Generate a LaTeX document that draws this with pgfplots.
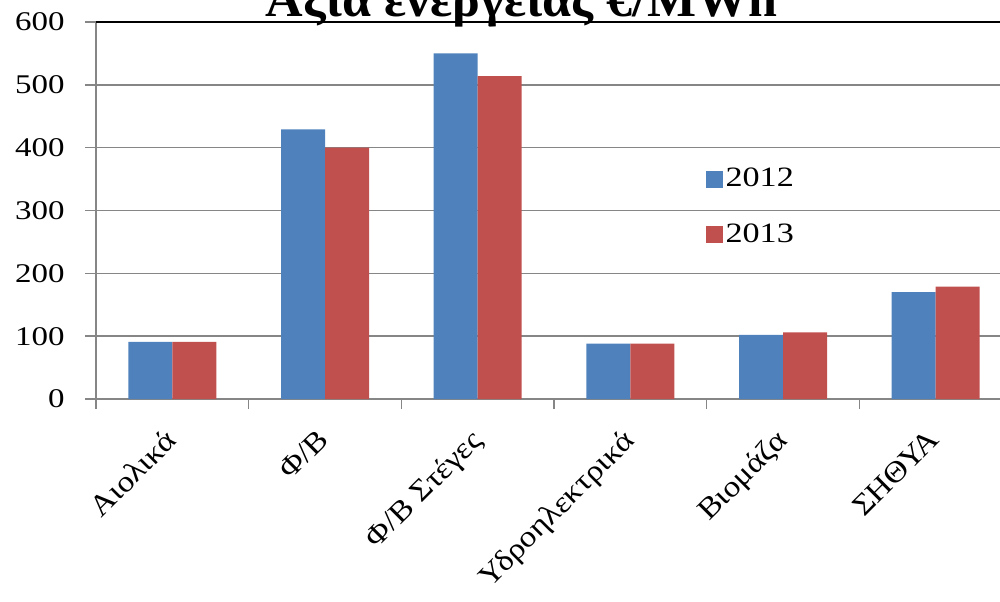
\documentclass[border=0pt]{standalone}
\usepackage{fontspec}
\setmainfont[FakeStretch=1.22]{Liberation Serif}
\newfontfamily\labelfont[FakeStretch=1.12]{Liberation Serif}
\newfontfamily\titlefont[FakeStretch=1.04]{Liberation Serif}
\usepackage{pgfplots}
\pgfplotsset{compat=1.18}
\definecolor{sblue}{HTML}{4F81BD}
\definecolor{sred}{HTML}{C0504D}
\definecolor{gridc}{HTML}{868686}
\begin{document}
\begin{tikzpicture}[x=1pt,y=1pt]
\useasboundingbox (0,0) rectangle (500,300.5);
\begin{axis}[
  at={(48pt,101pt)}, anchor=south west,
  scale only axis, width=458pt, height=188.5pt,
  xmin=-0.5, xmax=5.5, ymin=0, ymax=600,
  ybar=0pt, bar width=22pt,
  axis x line*=bottom, axis y line*=left,
  axis line style={gridc, line width=0.7pt},
  ytick={0,100,...,600},
  ymajorgrids, grid style={gridc, line width=0.75pt},
  tick align=outside, major tick length=5.5pt,
  tick style={gridc, line width=0.7pt},
  xtick={0,1,2,3,4,5},
  xticklabels={Αιολικά,Φ/Β,Φ/Β Στέγες,Υδροηλεκτρικά,Βιομάζα,ΣΗΘΥΑ},
  xtick style={draw=none},
  extra x ticks={-0.5,0.5,1.5,2.5,3.5,4.5,5.5},
  extra x tick labels={},
  extra x tick style={xtick style={draw=gridc}, major tick length=5pt, grid=none},
  x tick label style={font=\labelfont\fontsize{14.8}{16}\selectfont, anchor=north east, inner sep=0pt, xshift=-4.5pt, yshift=-8.5pt, rotate=45},
  /pgf/number format/assume math mode=true,
  y tick label style={font=\fontsize{13.5}{15}\selectfont, inner sep=0pt, xshift=-10pt},
  legend style={at={(0.665,0.621)}, anchor=north west, draw=none, fill=none, inner sep=0pt,
    row sep=14pt, font=\fontsize{14}{15}\selectfont, nodes={inner sep=1.5pt}},
  legend cell align=left,
  legend image code/.code={\fill[#1] (0pt,-4.25pt) rectangle (8.5pt,4.25pt);},
  clip=false,
]
\addplot[fill=sblue, draw=none] coordinates {(0,91) (1,429) (2,550) (3,88) (4,102) (5,170)};
\addplot[fill=sred, draw=none] coordinates {(0,91) (1,400) (2,514) (3,88) (4,106) (5,179)};
\legend{2012,2013}
\draw[black, line width=0.9pt] (rel axis cs:0,1) -- (rel axis cs:1,1);
\end{axis}
\node[anchor=base, font=\titlefont\fontsize{25}{27}\selectfont\bfseries] at (260.75,292) {Αξία ενέργειας €/MWh};
\end{tikzpicture}
\end{document}
